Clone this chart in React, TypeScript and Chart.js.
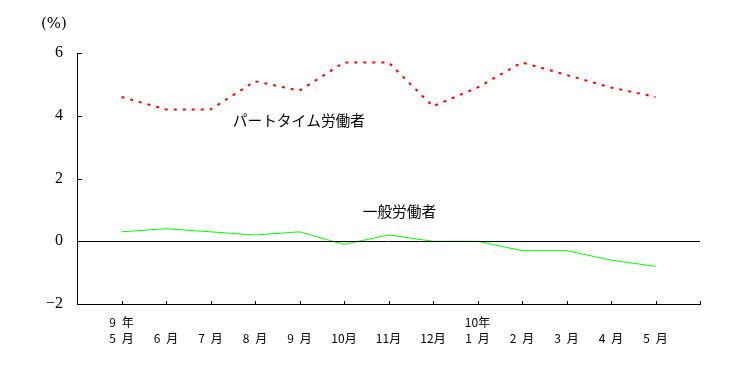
import React, { useEffect, useRef } from 'react';
import { Chart, registerables } from 'chart.js';

Chart.register(...registerables);

// ---- data ----
const monthLabels = ['5\u2002月', '6\u2002月', '7\u2002月', '8\u2002月', '9\u2002月', '10月', '11月', '12月', '1\u2002月', '2\u2002月', '3\u2002月', '4\u2002月', '5\u2002月'];
const yearLabels = ['9\u2002年', '', '', '', '', '', '', '', '10年', '', '', '', ''];
const partTimeValues = [4.6, 4.2, 4.2, 5.1, 4.8, 5.7, 5.7, 4.3, 4.9, 5.7, 5.3, 4.9, 4.6];
const generalValues = [0.3, 0.4, 0.3, 0.2, 0.3, -0.1, 0.2, 0.0, 0.0, -0.3, -0.3, -0.6, -0.8];
const yTickValues = [-2, 0, 2, 4, 6];
const partTimeName = 'パートタイム労働者';
const generalName = '一般労働者';
const unitLabel = '(%)';

export default function App() {
  const ref = useRef<HTMLCanvasElement | null>(null);

  useEffect(() => {
    if (!ref.current) return;
    const n = monthLabels.length;

    const overlay = {
      id: 'overlay',
      afterDraw(chart: any) {
        const ctx = chart.ctx;
        const xs = chart.scales.x;
        const ys = chart.scales.y;
        const area = chart.chartArea;
        ctx.save();
        ctx.strokeStyle = '#000';
        ctx.lineWidth = 1;
        // zero line
        const y0 = Math.round(ys.getPixelForValue(0)) + 0.5;
        ctx.beginPath();
        ctx.moveTo(area.left, y0);
        ctx.lineTo(area.right, y0);
        ctx.stroke();
        // y ticks (inward)
        yTickValues.forEach((v) => {
          const py = Math.round(ys.getPixelForValue(v)) + 0.5;
          ctx.beginPath();
          ctx.moveTo(area.left, py);
          ctx.lineTo(area.left + 5, py);
          ctx.stroke();
        });
        // x ticks (inward)
        for (let i = 1; i <= n + 1; i++) {
          const px = Math.round(xs.getPixelForValue(i)) + 0.5;
          ctx.beginPath();
          ctx.moveTo(px, area.bottom);
          ctx.lineTo(px, area.bottom - 3);
          ctx.stroke();
        }
        // texts
        ctx.fillStyle = '#000';
        ctx.textBaseline = 'middle';
        ctx.textAlign = 'left';
        ctx.font = '15px "DejaVu Serif"';
        ctx.fillText(unitLabel, 41, 24);
        ctx.font = '14.7px "Noto Sans CJK JP"';
        ctx.fillText(partTimeName, xs.getPixelForValue(3.5), ys.getPixelForValue(3.85));
        ctx.fillText(generalName, xs.getPixelForValue(6.42), ys.getPixelForValue(0.95));
        ctx.restore();
      },
    };

    const chart = new Chart(ref.current, {
      type: 'line',
      data: {
        datasets: [
          {
            label: partTimeName,
            data: partTimeValues.map((v, i) => ({ x: i + 1, y: v })),
            borderColor: '#ff0000',
            borderWidth: 2,
            borderDash: [3, 6],
            pointRadius: 0,
            tension: 0,
            fill: false,
          },
          {
            label: generalName,
            data: generalValues.map((v, i) => ({ x: i + 1, y: v })),
            borderColor: '#00ff00',
            borderWidth: 1,
            pointRadius: 0,
            tension: 0,
            fill: false,
          },
        ],
      },
      options: {
        responsive: false,
        animation: false,
        devicePixelRatio: 1,
        layout: { autoPadding: false, padding: { top: 53, right: 43, left: 0, bottom: 0 } },
        plugins: { legend: { display: false }, tooltip: { enabled: false } },
        scales: {
          x: {
            type: 'linear',
            min: 0,
            max: n + 1,
            afterFit: (s: any) => { s.height = 62; },
            grid: { display: false, drawTicks: false },
            border: { display: true, color: '#000', width: 1 },
            ticks: {
              stepSize: 1,
              autoSkip: false,
              maxRotation: 0,
              minRotation: 0,
              padding: 10,
              color: '#000',
              font: { family: '"Noto Sans CJK JP"', size: 12, lineHeight: '16px' },
              callback: (v: any) => {
                const i = Math.round(Number(v)) - 1;
                if (i < 0 || i >= n) return '';
                return [yearLabels[i], monthLabels[i]];
              },
            },
          },
          y: {
            type: 'linear',
            min: -2,
            max: 6,
            afterFit: (s: any) => { s.width = 77; },
            grid: { display: false, drawTicks: false },
            border: { display: true, color: '#000', width: 1 },
            ticks: {
              stepSize: 2,
              padding: 14,
              color: '#000',
              font: { family: '"Liberation Serif"', size: 16 },
              callback: (v: any) => (Number(v) < 0 ? '\u2212' + Math.abs(Number(v)) : String(v)),
            },
          },
        },
      },
      plugins: [overlay],
    } as any);

    return () => chart.destroy();
  }, []);

  return (
    <div style={{ position: 'absolute', left: 0, top: 0, width: 743, height: 366, background: '#fff' }}>
      <canvas ref={ref} width={743} height={366} />
    </div>
  );
}
